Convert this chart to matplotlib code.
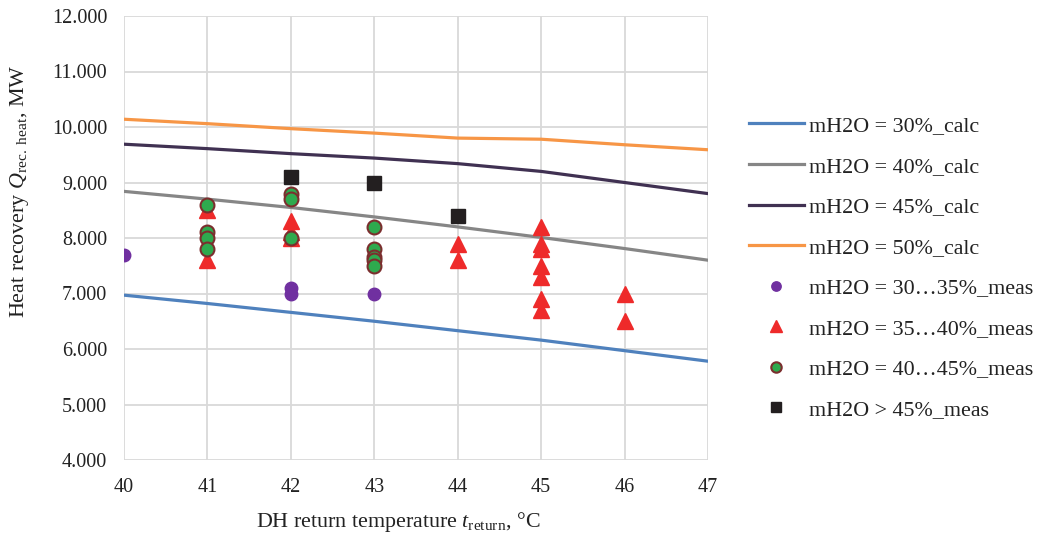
import matplotlib
matplotlib.use("Agg")
import matplotlib.pyplot as plt

plt.rcParams['font.family'] = ['Liberation Serif', 'DejaVu Serif']
plt.rcParams['mathtext.fontset'] = 'custom'
plt.rcParams['mathtext.rm'] = 'Liberation Serif'
plt.rcParams['mathtext.it'] = 'Liberation Serif:italic'

# calculated curves
t_calc = [40, 41, 42, 43, 44, 45, 46, 47]
calc_30 = [6.97, 6.82, 6.66, 6.50, 6.33, 6.16, 5.97, 5.78]
calc_40 = [8.84, 8.70, 8.55, 8.38, 8.20, 8.01, 7.81, 7.60]
calc_45 = [9.69, 9.61, 9.52, 9.44, 9.34, 9.20, 9.00, 8.80]
calc_50 = [10.14, 10.06, 9.97, 9.89, 9.80, 9.78, 9.68, 9.59]

# measurements
t_m30 = [40, 42, 42, 43]
q_m30 = [7.70, 7.10, 7.00, 7.00]
t_m35 = [41, 41, 42, 42, 42, 44, 44, 45, 45, 45, 45, 45, 45, 45, 46, 46]
q_m35 = [8.50, 7.60, 8.30, 8.10, 8.00, 7.90, 7.60, 8.20, 7.90, 7.80, 7.50, 7.30, 6.90, 6.70, 7.00, 6.50]
t_m40 = [41, 41, 41, 41, 42, 42, 42, 43, 43, 43, 43, 43]
q_m40 = [8.60, 8.10, 8.00, 7.80, 8.80, 8.70, 8.00, 8.20, 7.80, 7.65, 7.60, 7.50]
t_m45 = [42, 43, 44]
q_m45 = [9.10, 9.00, 8.40]

x_ticks = [40, 41, 42, 43, 44, 45, 46, 47]
y_ticks = [4, 5, 6, 7, 8, 9, 10, 11, 12]
y_ticklabels = ["4.000", "5.000", "6.000", "7.000", "8.000", "9.000", "10.000", "11.000", "12.000"]

fig = plt.figure(figsize=(10.46, 5.43), dpi=100)
ax = fig.add_axes([124/1046, 1-460/543, (708-124)/1046, (460-16)/543])

lw = 2.3
ax.plot(t_calc, calc_30, color='#4F81BD', lw=lw, label='mH2O = 30%_calc', zorder=3)
ax.plot(t_calc, calc_40, color='#868686', lw=lw, label='mH2O = 40%_calc', zorder=3)
ax.plot(t_calc, calc_45, color='#403152', lw=lw, label='mH2O = 45%_calc', zorder=3)
ax.plot(t_calc, calc_50, color='#F79646', lw=lw, label='mH2O = 50%_calc', zorder=3)

ax.plot(t_m30, q_m30, ls='none', marker='o', ms=9, color='#7030A0', mec='#7030A0',
        label='mH2O = 30…35%_meas', zorder=4)
ax.plot(t_m35, q_m35, ls='none', marker='^', ms=11.5, color='#EE2A2A', mec='#EE2A2A',
        label='mH2O = 35…40%_meas', zorder=4)
ax.plot(t_m40, q_m40, ls='none', marker='o', ms=10, color='#2EAA4E', mec='#7B2E2E', mew=1.5,
        label='mH2O = 40…45%_meas', zorder=5)
ax.plot(t_m45, q_m45, ls='none', marker='s', ms=10.5, color='#231F20', mec='#231F20',
        label='mH2O > 45%_meas', zorder=5)

ax.set_xlim(40, 47)
ax.set_ylim(4, 12)
ax.set_xticks(x_ticks)
ax.set_yticks(y_ticks)
ax.set_yticklabels(y_ticklabels)
ax.grid(True, color='#D9D9D9', lw=1.3, zorder=0)
ax.set_axisbelow(True)
for s in ax.spines.values():
    s.set_visible(False)
ax.tick_params(length=0, labelsize=14.5, colors='#222222')
ax.tick_params(axis='y', pad=12)
ax.tick_params(axis='x', pad=13)

fig.text(20/1046, 1-191/543, r'Heat recovery $Q_{\rm rec.\ heat}$, MW', rotation=90,
         ha='center', va='center', fontsize=15.8, color='#222222')
fig.text(398/1046, 1-522/543, r'DH return temperature $t_{\rm return}$, °C',
         ha='center', va='center', fontsize=15.8, color='#222222')

leg = ax.legend(loc='upper left', bbox_to_anchor=(729/1046, 1-96/543),
                bbox_transform=fig.transFigure, frameon=False, fontsize=15.8,
                handlelength=2.5, handletextpad=0.23, labelspacing=0.92,
                markerscale=0.75, labelcolor='#222222')

fig.savefig('out.png', dpi=100)
